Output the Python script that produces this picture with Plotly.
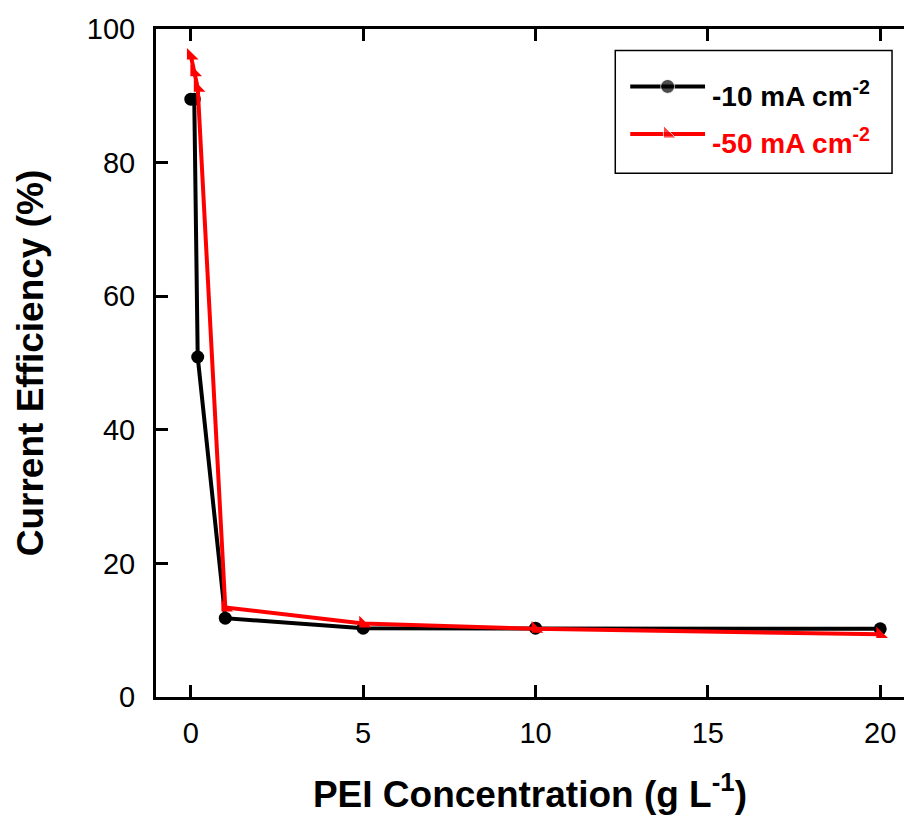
import plotly.graph_objects as go

# PEI concentration (g/L) and current efficiency (%) for two current densities
pei_10 = [0, 0.1, 0.2, 1, 5, 10, 20]
ce_10 = [89.5, 89.5, 50.9, 11.8, 10.3, 10.3, 10.2]

pei_50 = [0, 0.1, 0.2, 1, 5, 10, 20]
ce_50 = [96.0, 93.5, 91.2, 13.4, 11.0, 10.2, 9.4]

series_names = ["-10 mA cm<sup>-2</sup>", "-50 mA cm<sup>-2</sup>"]
x_ticks = [0, 5, 10, 15, 20]
y_ticks = [0, 20, 40, 60, 80, 100]

FONT = "Liberation Sans, Arial, sans-serif"
BLACK = "#000000"
RED = "#ff0000"

fig = go.Figure()

fig.add_trace(go.Scatter(
    x=pei_10, y=ce_10, mode="lines+markers",
    line=dict(color=BLACK, width=4),
    marker=dict(symbol="circle", size=13, color=BLACK),
    showlegend=False,
))
fig.add_trace(go.Scatter(
    x=pei_50, y=ce_50, mode="lines+markers",
    line=dict(color=RED, width=4),
    marker=dict(symbol="triangle-sw", size=13, color=RED),
    showlegend=False,
))

# Boxed legend drawn on a unit overlay axis so its samples can be longer
leg_x = [0.634, 0.684, 0.734]
leg_sizes = [0, 1, 0]
fig.add_trace(go.Scatter(
    x=leg_x, y=[0.914] * 3, xaxis="x2", yaxis="y2", mode="lines+markers",
    line=dict(color=BLACK, width=4),
    marker=dict(symbol="circle", size=[s * 14 for s in leg_sizes], color=BLACK),
    showlegend=False, hoverinfo="skip",
))
fig.add_trace(go.Scatter(
    x=leg_x, y=[0.843] * 3, xaxis="x2", yaxis="y2", mode="lines+markers",
    line=dict(color=RED, width=4),
    marker=dict(symbol="triangle-sw", size=[s * 14 for s in leg_sizes], color=RED),
    showlegend=False, hoverinfo="skip",
))

fig.add_shape(type="rect", xref="x domain", yref="y domain",
              x0=0.614, x1=0.984, y0=0.784, y1=0.968,
              line=dict(color=BLACK, width=1.5), fillcolor="white", layer="below")

for name, color, y in [(series_names[0], BLACK, 0.903), (series_names[1], RED, 0.833)]:
    fig.add_annotation(
        xref="x domain", yref="y domain", x=0.741, y=y,
        xanchor="left", yanchor="middle", showarrow=False,
        text=name, font=dict(family=FONT, size=28, color=color, weight="bold"),
    )

axis_common = dict(
    showline=True, linecolor=BLACK, linewidth=3,
    ticks="inside", ticklen=12, tickwidth=3, tickcolor=BLACK,
    showgrid=False, zeroline=False,
    tickfont=dict(family=FONT, size=29, color=BLACK),
)

fig.update_layout(
    width=904, height=815,
    margin=dict(l=156, r=0, t=29, b=118),
    plot_bgcolor="white", paper_bgcolor="white",
    xaxis=dict(
        **axis_common, range=[-1.01, 20.69], tickvals=x_ticks, mirror="ticks",
        ticklabelstandoff=8,
        title=dict(text="PEI Concentration (g L<sup>-1</sup>)", standoff=34,
                   font=dict(family=FONT, size=37, color=BLACK, weight="bold")),
    ),
    yaxis=dict(
        **axis_common, range=[0, 100], tickvals=y_ticks,
        ticklabelstandoff=12,
        title=dict(text="Current Efficiency (%)", standoff=32,
                   font=dict(family=FONT, size=37, color=BLACK, weight="bold")),
    ),
    xaxis2=dict(overlaying="x", range=[0, 1], visible=False, fixedrange=True),
    yaxis2=dict(overlaying="y", range=[0, 1], visible=False, fixedrange=True),
)

fig.write_html("out.html")
